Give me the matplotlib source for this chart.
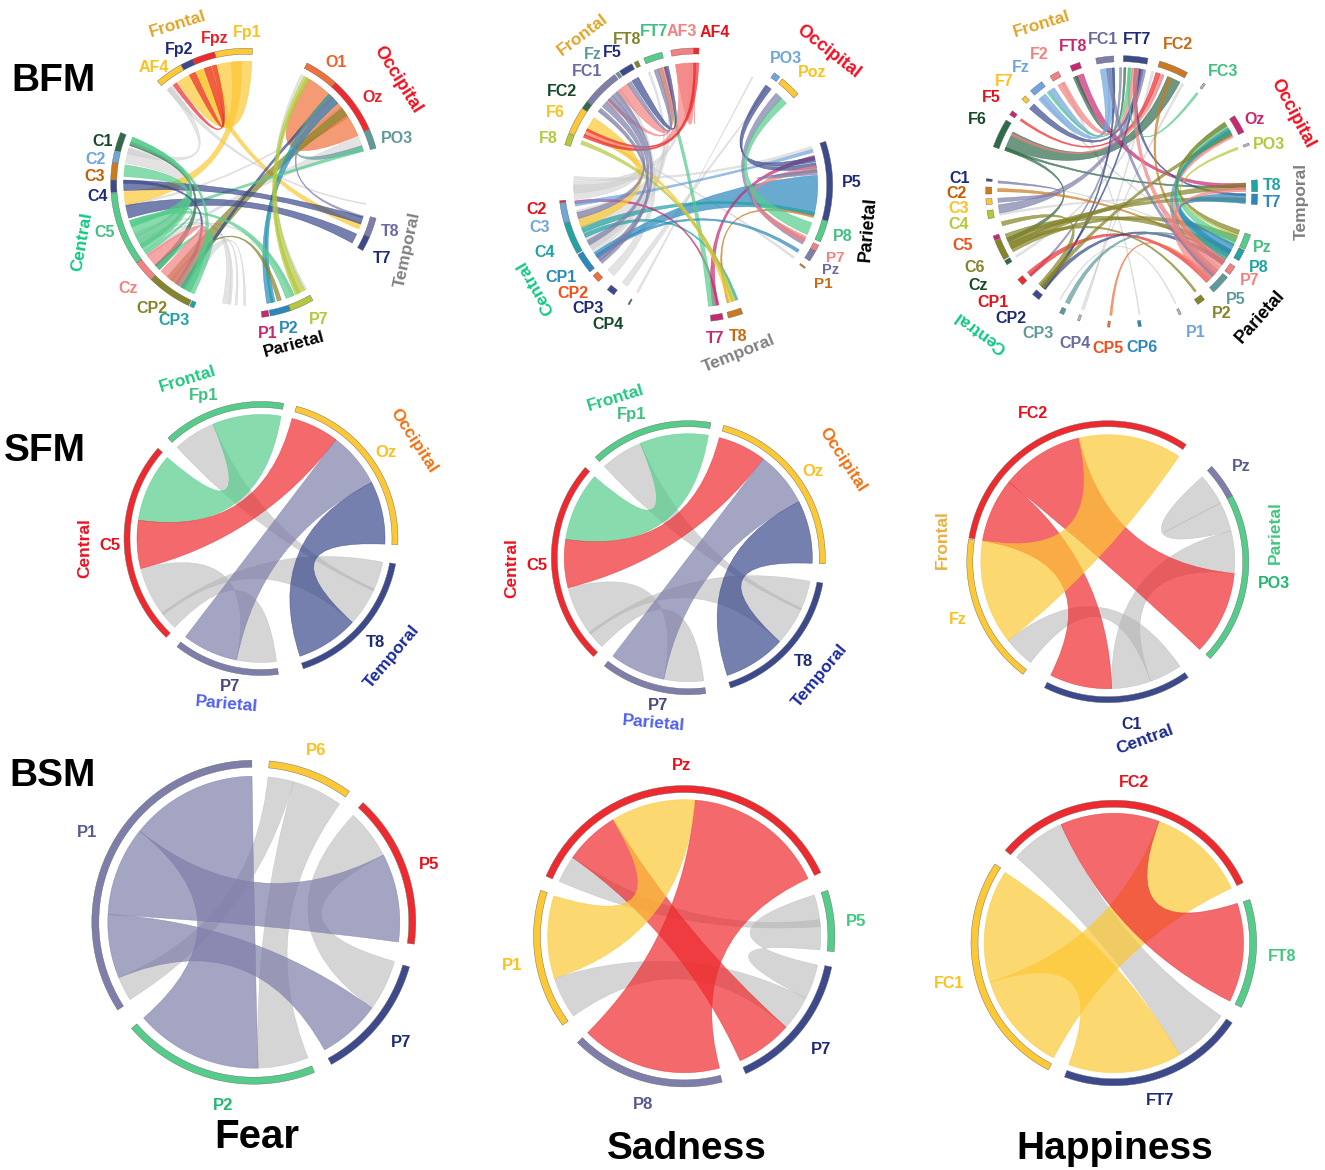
import numpy as np
import matplotlib
matplotlib.use("Agg")
import matplotlib.pyplot as plt
from matplotlib.path import Path
from matplotlib.patches import PathPatch

plt.rcParams['font.family'] = ['Liberation Sans', 'DejaVu Sans']

# palette
RED = "#ee2a2e"
YEL = "#fcc835"
GRN = "#55cc8a"
NAV = "#3c4a8c"
LAV = "#7e7eaa"
GRY = "#b4b4b4"
PAL = "#cccccc"
DGR = "#2f6b4a"
LBL = "#6fa5dc"
ORG = "#cc7a22"
SAL = "#f58080"
OLV = "#84842a"
TEA = "#1fa3a3"
MAG = "#c8286e"
BLU = "#2a88bd"
LIM = "#b4c83c"
COR = "#f0703a"
SLT = "#5f9a9a"

# angles in degrees, counter clockwise from east
# sectors: name, start, end, colour
bfm_fear_sectors = [
    ("Fp1", 87.1, 103.4, YEL), ("Fpz", 103.4, 113.2, RED), ("Fp2", 113.2, 118.7, NAV),
    ("AF4", 118.7, 130.8, YEL), ("O1", 48.2, 63, COR), ("Oz", 23.7, 48.2, RED),
    ("PO3", 15.1, 23.7, SLT), ("T8", -23.5, -15, LAV), ("T7", -29.9, -23.5, NAV),
    ("P7", -70.7, -60.1, LIM), ("P2", -79.5, -70.7, BLU), ("P1", -83.1, -80, MAG),
    ("CP3", -114.5, -112.6, TEA), ("CP2", -134.5, -115, OLV), ("Cz", -143.9, -134.5, SAL),
    ("C5", -175.7, -143.9, GRN), ("C4", 178.6, 184, NAV), ("C3", 171.1, 178.6, ORG),
    ("C2", 166.3, 171, LBL), ("C1", 157.9, 166, DGR),
]
bfm_fear_links = [
    (163.4, 170.5, 205, 212, PAL), (127, 130, 163, 166, PAL), (208, 209, 262, 263, PAL),
    (204, 205, 259, 262, PAL), (216, 217, 238, 241, PAL), (233, 234, -95, -94, PAL),
    (-91, -90, 238, 243, PAL), (17.3, 22.6, 215, 216, PAL), (-10, -9.5, 128, 130, PAL),
    (-60, -61, 62, 63, PAL), (-68, -67, 210, 211, PAL), (190, 191, 38, 39, PAL),
    (87.1, 104, 114.5, 124, YEL), (104, 114.5, 104, 104, YEL), (92, 97, 184, 190.3, YEL),
    (-22, -19, 111, 114, YEL),
    (104, 106, 124.5, 126.5, RED), (106.5, 110, 114.5, 117.5, RED),
    (23, 33, 46.9, 58.8, COR), (33, 46.9, 33, 33, COR), (33.8, 38, 230, 238.5, OLV),
    (41, 44.5, -80, -76, BLU), (44.5, 46, 238, 240, NAV), (45.5, 47, -78, -77, TEA),
    (-16.5, -15.5, 44, 45.5, LAV), (15.5, 18, 45, 46.5, SLT),
    (15.2, 16.8, 199, 201, GRN), (-19.5, -16, 178.5, 183.5, NAV), (-29.3, -24.6, 190.5, 196.6, NAV),
    (-66, -63.5, 59.3, 61.5, LIM), (-65, -61, 58.5, 60, LIM), (-70.7, -66.5, 197.8, 199.2, GRN),
    (-75, -73, 232, 233, OLV), (157.7, 160, 240, 243, GRN), (160.2, 162, 222, 225, DGR),
    (171.3, 176.8, 200, 206, GRN), (158, 160, 206, 212, GRN), (160, 161, 210, 214, GRN),
    (197.8, 200.5, 214, 215.5, GRN), (178.5, 180, 235, 237, NAV), (223, 225, 236, 245, GRN),
    (216, 222, 226, 237.4, SAL),
]

bfm_sad_sectors = [
    ("AF4", 88.6, 91, RED), ("AF3", 91, 100.5, SAL), ("FT7", 104.3, 112.3, GRN),
    ("FT8", 114.9, 116.7, OLV), ("F5", 117.8, 123.8, NAV), ("Fz", 124.3, 125.7, SLT),
    ("FC1", 126.3, 142.5, LAV), ("FC2", 142.5, 145.9, DGR), ("F6", 146, 157.7, YEL),
    ("F8", 158, 162.9, LIM), ("PO3", 52.1, 55, LBL), ("Poz", 41.6, 50.8, YEL),
    ("P5", -15.3, 18.6, NAV), ("P8", -24.5, -15.3, GRN), ("P7", -28.9, -26.1, SAL),
    ("Pz", -33.7, -29, LAV), ("P1", -37.5, -36.8, ORG), ("T8", -76.2, -69.9, ORG),
    ("T7", -83.6, -78.4, MAG), ("CP4", -119.6, -119, DGR), ("CP3", -130.2, -126.7, NAV),
    ("CP2", -138.5, -135.2, COR), ("CP1", -149.4, -140.6, BLU), ("C4", -163.8, -150, TEA),
    ("C3", -172.4, -164, LBL), ("C2", -173.4, -172.5, RED),
]
bfm_sad_links = [
    (17, 18.5, 176, 177.5, PAL), (-37, -36, 155, 156, PAL), (-118, -119, 62, 62.5, PAL),
    (233, 236, 52.5, 53, PAL), (224, 228, 130, 131, PAL), (208, 214, 128, 129, PAL),
    (180, 187, 135, 136, PAL), (192, 196, 142, 143, PAL), (196, 212, 106, 107, PAL),
    (215, 218, 112, 113, PAL), (178, 184, 92, 93, PAL),
    (-14.7, 4.6, 213.7, 216.5, BLU), (-14.5, -13, 200, 203, TEA), (-71, -69.8, 203.5, 205.5, TEA),
    (-15.5, -14.5, -75, -74, ORG), (-82, -79.5, 12, 14, MAG), (187.5, 189, -80, -79, MAG),
    (-84, -81, 106, 108, GRN), (15.5, 17, 188, 190, LBL),
    (8, 10.5, 51.8, 54, NAV), (11, 13.5, 54, 55, NAV), (-29, -26, 45.2, 48.8, LAV),
    (-24, -18, 42, 45.5, GRN), (-33.5, -32, 215, 217, BLU), (-28, -25, 6, 9, SAL),
    (146.5, 153, 195.7, 200.5, YEL), (153, 155, 285.5, 288, YEL), (158.7, 160.5, 287, 289, LIM),
    (91, 99.5, 153.5, 156, SAL), (91, 99.5, 91, 91, SAL), (88.6, 90.5, 155.5, 157, RED), (90, 91, 152.5, 153.5, RED),
    (104, 106, 135, 137, SAL), (103, 105, 118, 121.5, NAV), (106, 108, 124, 130, SAL),
    (130, 133, 216, 218.5, LAV), (133, 136, 207, 209.5, LAV), (137, 140, 193, 196, LAV),
    (141, 143, 218, 220, LAV), (5, 7, 6.5, 7.5, LAV), (108, 110, 122, 124, LAV),
]

bfm_hap_sectors = [
    ("FC2", 61.1, 73.8, ORG), ("FT7", 78.8, 89.3, NAV), ("FC1", 93.4, 101, LAV),
    ("FT8", 108, 112.3, MAG), ("F2", 117.8, 121.8, SAL), ("Fz", 126, 132.1, LBL),
    ("F7", 135.2, 137.2, YEL), ("F5", 143.5, 145.5, MAG), ("F6", 148.2, 160.7, DGR),
    ("C1", 174.5, 175.5, NAV), ("C2", 178, 181, ORG), ("C3", 183, 185.5, YEL),
    ("C4", 188, 191.5, LIM), ("C5", 199, 201, MAG), ("C6", 201.2, 209.9, OLV),
    ("Cz", 210.5, 212.5, DGR), ("CP1", 220.2, 223.2, RED), ("CP2", 229, 232.5, NAV),
    ("CP3", 242.8, 244.7, SLT), ("CP4", 251, 252, GRY), ("CP5", 264, 265, COR),
    ("CP6", 277, 278.3, BLU), ("P1", -65, -64, GRY), ("P2", -56, -52.5, OLV),
    ("P5", -47.5, -39, SLT), ("P7", -37.5, -33.5, SAL), ("P8", -30.5, -25.5, TEA),
    ("Pz", -25, -18.5, GRN), ("T7", -5.5, -1, BLU), ("T8", 0, 5, TEA),
    ("PO3", 20, 21, GRY), ("Oz", 26, 34, MAG), ("FC3", 52, 53, GRY),
]
bfm_hap_links = [
    (-64.5, -64, 240, 240.5, PAL), (252, 252.5, 75, 76, PAL),
    (278, 278.5, 118, 119, PAL), (251, 251.5, 60, 61, PAL), (211, 212, 70, 71, PAL),
    (-30, -29, 130, 131, PAL), (-5, -4, 190, 191, PAL), (175, 175.5, -30, -29.5, PAL),
    (62, 68.3, 151.2, 159.4, DGR), (70, 72, 152, 153, SAL), (72, 74, 144, 145, RED),
    (159.4, 160.5, 2, 3, DGR), (159, 160.5, 202, 204, DGR), (108, 112, 2, 4, MAG),
    (88, 89, 111, 113, DGR), (93.4, 97, 128, 132, LBL), (97, 100, 123, 126, LBL),
    (85, 87, 126, 127, GRN), (80, 82, 135, 138, NAV), (83, 85, 117.5, 121, SAL),
    (78.8, 81, 186, 190, LAV), (82, 84, -2, -1, NAV), (81, 82, 230, 231, NAV),
    (90, 91, 222, 223, LAV), (93.5, 94.5, 231, 232, NAV), (66, 67.5, -36, -34, ORG),
    (52, 53, 86, 87, GRN), (20, 21, -21, -20, LIM), (178.5, 180, -34, -33, ORG),
    (202, 205, -5, -3, OLV), (204.5, 207.5, 1, 4, OLV), (205, 207, -54, -53, OLV),
    (207, 209, -24, -21, OLV), (200, 203, -31, -28, OLV), (220.5, 223, -47, -45, RED),
    (230, 232, -36, -34, NAV), (228, 231, 194, 196, OLV), (243, 245, -32, -31, SLT),
    (264.5, 265.5, -45, -44, COR), (27, 34, -26, -22, GRN), (26, 28, -38, -33, SAL),
    (29, 31, -44, -39, SLT), (32, 34, -20, -18, OLV), (27, 29, 229, 231, OLV),
    (-33, -28, 28, 30, TEA), (-5.5, -1, -30, -25, BLU), (-47, -40, 0, 2, SAL),
    (95, 97, -43, -41, LAV), (-42, -38, 82, 84, SAL), (175, 176, 183, 185, LAV),
]

# the SFM fear and sadness panels share their angles
sfm_sectors = [
    ("Fp1", 80.5, 132.8, GRN), ("Oz", -2.6, 75, YEL), ("T8", -72, -10.7, NAV),
    ("P7", -127.8, -82.7, LAV), ("C5", 138.8, 226.2, RED),
]
sfm_links = [
    (225.8, 194, 258.6, 277.2, GRY), (-42.6, -11, 217, 218, GRY), (-25, -24, 112.8, 132.6, GRY),
    (80.7, 112.8, 139.2, 171.5, GRN), (52.8, 75.5, 171.5, 194, RED),
    (26.8, 52.8, 232.5, 258.6, LAV), (-71.7, -42.6, -2.6, 26.8, NAV),
]
sfm_hap_sectors = [
    ("FC2", 56.2, 170.3, RED), ("Fz", 170.7, 233, YEL), ("C1", 243.3, 304.8, NAV),
    ("PO3", -43.4, 28, GRN), ("Pz", 28, 42.5, LAV),
]
sfm_hap_links = [
    (218.3, 232.6, 289.7, 304.6, GRY), (-5, 14, 271.8, 289.7, GRY), (14, 27.5, 27.5, 42, GRY),
    (-43.7, -5.3, 103.2, 141.2, RED), (141.2, 170.5, 243.3, 271.8, RED),
    (56, 103.2, 170.5, 218.3, YEL),
]

bsm_fear_sectors = [
    ("P1", 90.7, 212.8, LAV), ("P6", 53.8, 84.5, YEL), ("P5", -7.8, 47.6, RED),
    ("P7", -61.4, -16, NAV), ("P2", 221, 292, GRN),
]
bsm_fear_links = [
    (74.2, 84.4, 202.3, 212, GRY), (54, 74.2, 271.7, 291.8, GRY), (-36, -15.6, 27.4, 47.1, GRY),
    (-7.8, 27.4, 141.4, 177, LAV), (90.7, 141.4, 221, 271.7, LAV), (-61, -36, 177, 202.3, LAV),
]
bsm_sad_sectors = [
    ("Pz", 25, 156.5, RED), ("P5", -5.9, 17.7, GRN), ("P7", -65.9, -11.8, NAV),
    ("P8", 224.9, 284.6, LAV), ("P1", 162.3, 216.2, YEL),
]
bsm_sad_links = [
    (144.8, 156.3, 4, 7, GRY), (17.6, -5.8, -27, -12.2, GRY), (198, 215.8, -41.8, -27, GRY),
    (25, 85.5, 225, 285, RED), (-65.8, -41.8, 121.4, 144.8, RED), (85.5, 121.4, 162.8, 198, YEL),
]
bsm_hap_sectors = [
    ("FC2", 25, 139.5, RED), ("FT8", -26.8, 17.7, GRN), ("FT7", -110.2, -34, NAV),
    ("FC1", 146.4, 242.7, YEL),
]
bsm_hap_links = [
    (-59.5, -34.2, 114, 138.6, GRY), (147, 197.6, 249.7, 300.5, YEL),
    (25, 69.6, 197.6, 242.3, YEL), (-26.6, 17.8, 69.6, 114, RED),
]

# centre x, centre y, outer radius, ring width, ribbon radius
panels = [
    (bfm_fear_sectors, bfm_fear_links, 245.7, 183.3, 135, 6, 122),
    (bfm_sad_sectors, bfm_sad_links, 695.7, 185, 137, 6, 122),
    (bfm_hap_sectors, bfm_hap_links, 1121.7, 191.7, 136, 6, 124),
    (sfm_sectors, sfm_links, 261, 538.5, 137, 6, 124),
    (sfm_sectors, sfm_links, 688.3, 557.7, 137, 6, 124),
    (sfm_hap_sectors, sfm_hap_links, 1107.8, 561.7, 141, 6, 127),
    (bsm_fear_sectors, bsm_fear_links, 253.8, 922.2, 162, 7, 146),
    (bsm_sad_sectors, bsm_sad_links, 684.2, 936.2, 150.7, 7, 136.5),
    (bsm_hap_sectors, bsm_hap_links, 1113.8, 943, 142.8, 7, 129.7),
]

# text, x, y, rotation, colour, size
labels = [
    ("Frontal", 178, 23, 17, "#e0a52a", 12.5), ("Fp2", 179, 48, 0, "#1f2a78", 11.5), ("Fpz", 215, 37, 0, "#e8202a", 11.5),
    ("Fp1", 247, 31, 0, "#fcc020", 11.5), ("AF4", 154, 66, 0, "#fcc020", 11.5), ("O1", 336, 61, 0, "#f0602a", 11.5),
    ("Occipital", 398, 78, -58, "#f01020", 13), ("Oz", 373, 96, 0, "#e8202a", 11.5), ("PO3", 397, 137, 0, "#5f9a9a", 11.5),
    ("T8", 390, 230, 0, "#6a6aa0", 11.5), ("T7", 382, 257, 0, "#1f2a78", 11.5), ("Temporal", 407, 248, 78, "#808080", 12.5),
    ("P7", 319, 318, 0, "#b4c83c", 11.5), ("P2", 289, 327, 0, "#2a88bd", 11.5), ("P1", 268, 332, 0, "#c8286e", 11.5),
    ("Parietal", 294, 343, 15, "#000000", 12.5), ("CP3", 174, 319, 0, "#1fa3a3", 11.5), ("CP2", 152, 307, 0, "#84842a", 11.5),
    ("Cz", 128, 287, 0, "#f58080", 11.5), ("C5", 105, 231, 0, "#40c080", 11.5), ("Central", 82, 240, 80, "#10c880", 12.5),
    ("C4", 98, 195, 0, "#1f2a78", 11.5), ("C3", 95, 175, 0, "#c85a00", 11.5), ("C2", 96, 158, 0, "#6fa5dc", 11.5),
    ("C1", 103, 140, 0, "#154a28", 11.5),

    ("Frontal", 583, 33, 37, "#e0a52a", 12.5), ("FT8", 627, 38, 0, "#84842a", 11.5), ("FT7", 654, 30, 0, "#40c080", 11.5),
    ("AF3", 682, 30, 0, "#f58080", 11.5), ("AF4", 715, 31, 0, "#e8101a", 11.5), ("F5", 612, 51, 0, "#1f2a78", 11.5),
    ("Fz", 593, 53, 0, "#5f9a9a", 11.5), ("FC1", 587, 70, 0, "#6a6aa0", 11.5), ("FC2", 562, 90, 0, "#154a28", 11.5),
    ("F6", 555, 111, 0, "#fcc020", 11.5), ("F8", 548, 137, 0, "#b4c83c", 11.5), ("PO3", 786, 57, 0, "#6fa5dc", 11.5),
    ("Poz", 812, 71, 0, "#fcc020", 11.5), ("Occipital", 828, 50, -38, "#f01020", 13), ("P5", 852, 181, 0, "#1f2a78", 11.5),
    ("P8", 843, 235, 0, "#40c080", 11.5), ("Parietal", 868, 228, 85, "#000000", 13), ("P7", 835, 256, 0, "#f58080", 11),
    ("Pz", 831, 269, 0, "#6a6aa0", 10.5), ("P1", 823, 283, 0, "#c86a10", 11), ("T8", 738, 335, 0, "#c86a10", 11.5),
    ("T7", 715, 337, 0, "#c8286e", 11.5), ("Temporal", 739, 352, 22, "#808080", 12.5), ("CP4", 608, 323, 0, "#154a28", 11.5),
    ("CP3", 588, 307, 0, "#1f2a78", 11.5), ("CP2", 573, 292, 0, "#f0501a", 11.5), ("CP1", 561, 276, 0, "#2a88bd", 11.5),
    ("Central", 535, 286, 120, "#10c880", 12.5), ("C4", 545, 251, 0, "#1fa3a3", 11.5), ("C3", 540, 226, 0, "#6fa5dc", 11.5),
    ("C2", 537, 208, 0, "#e8101a", 11.5),

    ("Frontal", 1042, 23, 17, "#e0a52a", 12.5), ("FC1", 1103, 38, 0, "#6a6aa0", 11.5), ("FT7", 1137, 38, 0, "#1f2a78", 11.5),
    ("FT8", 1073, 45, 0, "#c8286e", 11.5), ("FC2", 1178, 43, 0, "#c86a10", 11.5), ("F2", 1039, 53, 0, "#f58080", 11.5),
    ("Fz", 1021, 66, 0, "#6fa5dc", 11.5), ("F7", 1004, 80, 0, "#fcc020", 11.5), ("F5", 991, 96, 0, "#e8101a", 11.5),
    ("F6", 977, 118, 0, "#154a28", 11.5), ("FC3", 1223, 70, 0, "#40c080", 11.5), ("Occipital", 1293, 112, -62, "#f01020", 13),
    ("Oz", 1255, 118, 0, "#c8286e", 11.5), ("PO3", 1269, 143, 0, "#b4c83c", 11.5), ("Temporal", 1301, 200, 90, "#808080", 12.5),
    ("T8", 1272, 184, 0, "#1fa3a3", 11.5), ("T7", 1272, 201, 0, "#2a88bd", 11.5), ("Pz", 1262, 246, 0, "#40c080", 11.5),
    ("P8", 1259, 266, 0, "#1fa3a3", 11.5), ("P7", 1250, 279, 0, "#f58080", 11.5), ("P5", 1236, 298, 0, "#5f9a9a", 11.5),
    ("P2", 1222, 312, 0, "#84842a", 11.5), ("Parietal", 1260, 315, 48, "#000000", 13), ("P1", 1196, 331, 0, "#6fa5dc", 11.5),
    ("CP6", 1142, 346, 0, "#2a88bd", 11.5), ("CP5", 1108, 347, 0, "#f0501a", 11.5), ("CP4", 1075, 342, 0, "#6a6aa0", 11.5),
    ("CP3", 1038, 332, 0, "#5f9a9a", 11.5), ("CP2", 1011, 317, 0, "#1f2a78", 11.5), ("CP1", 993, 301, 0, "#e8101a", 11.5),
    ("Cz", 978, 284, 0, "#154a28", 11.5), ("C6", 975, 266, 0, "#84842a", 11.5), ("C5", 963, 244, 0, "#f0501a", 11.5),
    ("C4", 959, 223, 0, "#b4c83c", 11.5), ("C3", 959, 207, 0, "#fcc020", 11.5), ("C2", 957, 192, 0, "#c85a00", 11.5),
    ("C1", 960, 177, 0, "#1f2a78", 11.5), ("Central", 980, 331, 144, "#10c880", 12.5),

    ("Frontal", 188, 378, 17, "#20c880", 12.5), ("Fp1", 204, 394, 0, "#40c080", 12), ("Occipital", 414, 439, -57, "#f07010", 12.5),
    ("Oz", 386, 451, 0, "#fcc020", 12), ("Central", 85, 547, 90, "#f01020", 12.5), ("C5", 110, 544, 0, "#e8101a", 12),
    ("T8", 376, 641, 0, "#1f2a78", 12), ("Temporal", 392, 655, 50, "#1a2aa0", 12.5), ("P7", 230, 685, 0, "#4a4a80", 12),
    ("Parietal", 227, 703, -5, "#4f60f0", 12.5),

    ("Frontal", 616, 397, 17, "#20c880", 12.5), ("Fp1", 632, 413, 0, "#40c080", 12), ("Occipital", 843, 458, -57, "#f07010", 12.5),
    ("Oz", 813, 470, 0, "#fcc020", 12), ("Central", 512, 567, 90, "#f01020", 12.5), ("C5", 537, 564, 0, "#e8101a", 12),
    ("T8", 804, 660, 0, "#1f2a78", 12), ("Temporal", 820, 674, 50, "#1a2aa0", 12.5), ("P7", 658, 704, 0, "#4a4a80", 12),
    ("Parietal", 654, 722, -5, "#4f60f0", 12.5),

    ("FC2", 1033, 412, 0, "#e8101a", 11.5), ("Pz", 1241, 465, 0, "#5a5a90", 11.5), ("Parietal", 1275, 531, 90, "#40c880", 12.5),
    ("PO3", 1274, 582, 0, "#20b870", 11.5), ("Frontal", 942, 538, 90, "#e8b040", 12.5), ("Fz", 958, 618, 0, "#fcc020", 11.5),
    ("C1", 1132, 723, 0, "#1f2a78", 11.5), ("Central", 1145, 738, 20, "#1a2a90", 12.5),

    ("P6", 316, 749, 0, "#fcc020", 12), ("P5", 429, 863, 0, "#e8101a", 12), ("P1", 87, 831, 0, "#5a5a90", 12),
    ("P7", 401, 1041, 0, "#1f2a78", 12), ("P2", 223, 1104, 0, "#20b870", 12),
    ("Pz", 682, 764, 0, "#e8101a", 12), ("P5", 856, 920, 0, "#40c880", 12), ("P1", 512, 964, 0, "#fcc020", 12),
    ("P7", 821, 1048, 0, "#1f2a78", 12), ("P8", 643, 1103, 0, "#5a5a90", 12),
    ("FC2", 1134, 781, 0, "#e8101a", 11.5), ("FT8", 1282, 955, 0, "#40c880", 11.5), ("FC1", 949, 982, 0, "#fcc020", 11.5),
    ("FT7", 1160, 1099, 0, "#1f2a78", 11.5),
]
# text, x, y, size
titles = [
    ("BFM", 53, 81, 28), ("SFM", 45, 451, 28), ("BSM", 53, 776, 28),
    ("Fear", 257, 1137, 29), ("Sadness", 687, 1149, 28), ("Happiness", 1115, 1149, 28),
]


def on_circle(cx, cy, r, deg):
    t = np.radians(deg)
    return cx + r * np.cos(t), cy - r * np.sin(t)


def draw_ring(ax, cx, cy, r0, r1, a0, a1, color):
    t = np.linspace(a0, a1, 40)
    outer = np.column_stack(on_circle(cx, cy, r1, t))
    inner = np.column_stack(on_circle(cx, cy, r0, t[::-1]))
    ax.fill(*np.vstack([outer, inner]).T, facecolor=color, edgecolor="#666666", linewidth=0.3)


def draw_link(ax, cx, cy, r, link):
    a0, a1, b0, b1, color = link
    verts = []
    codes = []
    for k, t in enumerate(np.linspace(a0, a1, 24)):
        verts.append(on_circle(cx, cy, r, t))
        codes.append(Path.MOVETO if k == 0 else Path.LINETO)
    verts += [(cx, cy), on_circle(cx, cy, r, b0)]
    codes += [Path.CURVE3, Path.CURVE3]
    for t in np.linspace(b0, b1, 24)[1:]:
        verts.append(on_circle(cx, cy, r, t))
        codes.append(Path.LINETO)
    verts += [(cx, cy), on_circle(cx, cy, r, a0)]
    codes += [Path.CURVE3, Path.CURVE3]
    alpha = 0.55 if color in (GRY, PAL) else 0.7
    ax.add_patch(PathPatch(Path(verts, codes), facecolor=color, edgecolor=color,
                           linewidth=0.4, alpha=alpha))


fig = plt.figure(figsize=(13.25, 11.7), dpi=100)
ax = fig.add_axes([0, 0, 1, 1])
ax.set_xlim(0, 1325)
ax.set_ylim(1170, 0)
ax.axis("off")

for sectors, links, cx, cy, outer, width, rim in panels:
    for link in links:
        draw_link(ax, cx, cy, rim, link)
    for name, start, end, color in sectors:
        draw_ring(ax, cx, cy, outer - width, outer, start, end, color)

for text, x, y, rot, color, size in labels:
    ax.text(x, y + 1.5, text, rotation=rot, color=color, fontsize=size, fontweight="bold",
            ha="center", va="center", rotation_mode="anchor")

for text, x, y, size in titles:
    ax.text(x, y, text, color="black", fontsize=size, fontweight="bold", ha="center", va="center")

fig.savefig("out.png", dpi=100)
